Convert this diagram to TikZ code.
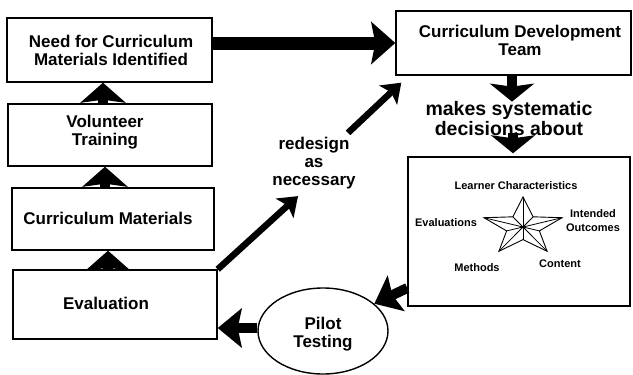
\documentclass[tikz,border=0pt]{standalone}
\usepackage{fontspec}
\setmainfont{Liberation Sans}
\usetikzlibrary{arrows.meta,calc,shapes.geometric}
\newcommand\dgbig{\fontsize{17}{18}\selectfont\bfseries}
\newcommand\dgdec{\fontsize{19.5}{20}\selectfont\bfseries}
\newcommand\dgsmall{\fontsize{11}{14}\selectfont\bfseries}
\begin{document}
\begin{tikzpicture}[x=1pt,y=-1pt,
  box/.style={draw, line width=1.4pt, align=center, font=\dgbig, inner sep=0pt},
  lbl/.style={align=center, inner sep=0pt},
  upar/.style={line width=10pt, -{Stealth[length=20pt,width=45pt,inset=3pt]}},
  downar/.style={line width=10pt, -{Stealth[length=18pt,width=44pt,inset=3pt]}},
  bigar/.style={line width=13pt, -{Stealth[length=24pt,width=42pt,inset=4pt]}},
  medar/.style={line width=10pt, -{Stealth[length=24pt,width=39pt,inset=4pt]}},
  diagar/.style={line width=6.5pt, -{Stealth[length=18pt,width=26pt,inset=4pt]}},
  starline/.style={line width=0.9pt, line join=miter}
]
\useasboundingbox[fill=white] (0,0) rectangle (633,375);

% boxes
\node[box, minimum width=205pt, minimum height=64pt] (need) at (109.5,50) {};
\node[box, minimum width=204pt, minimum height=62pt] (vol) at (110,135) {};
\node[box, minimum width=202pt, minimum height=62pt] (cm) at (113,219) {};
\node[box, minimum width=204pt, minimum height=69pt] (eval) at (115,304.5) {};
\node[box, minimum width=235pt, minimum height=64pt] (cdt) at (513.5,43) {};
\node[box, minimum width=222pt, minimum height=149pt] (starbox) at (519,231.5) {};
\node[box, ellipse, minimum width=130pt, minimum height=86pt] (pilot) at (323,331) {};

% box texts
\node[lbl, font=\dgbig] (needt) at (111,50) {Need for Curriculum\\Materials Identified};
\node[lbl, font=\dgbig] (volt) at (105,132) {Volunteer\\Training};
\node[lbl, font=\dgbig] (cmt) at (108,218) {Curriculum Materials};
\node[lbl, font=\dgbig] (evalt) at (106,303) {Evaluation};
\node[lbl, font=\dgbig] (cdtt) at (520,40) {Curriculum Development\\Team};
\node[lbl, font=\dgbig] (pilott) at (323,334) {Pilot\\Testing};

% free labels
\node[lbl, font=\dgdec] (decide) at (509,119) {makes systematic\\decisions about};
\node[lbl, font=\dgbig] (redesign) at (314,163) {redesign\\as\\necessary};

% star labels
\node[lbl, font=\dgsmall] (lc) at (516,186) {Learner Characteristics};
\node[lbl, font=\dgsmall] (ev) at (446,223) {Evaluations};
\node[lbl, font=\dgsmall] (io) at (593,221) {Intended\\Outcomes};
\node[lbl, font=\dgsmall] (me) at (477,268) {Methods};
\node[lbl, font=\dgsmall] (co) at (560,264) {Content};

% star
\coordinate (sc) at (523,227);
\foreach \a/\r [count=\i] in {90/1,126/0.42,162/1,198/0.42,234/1,270/0.42,306/1,342/0.42,18/1,54/0.42}
  \coordinate (s\i) at ($(sc)+({41*\r*cos(\a)},{-30*\r*sin(\a)})$);
\draw[starline] (s1)--(s2)--(s3)--(s4)--(s5)--(s6)--(s7)--(s8)--(s9)--(s10)--cycle;
\foreach \i in {1,...,10} \draw[line width=0.8pt] (sc)--(s\i);

% up arrows
\draw[upar] ([xshift=-7pt]vol.north) -- ([xshift=-7pt]vol.north |- need.south);
\draw[upar] ([xshift=-8pt]cm.north) -- ([xshift=-8pt]cm.north |- vol.south);
\draw[upar] ([xshift=-7pt]eval.north) -- ([xshift=-7pt]eval.north |- cm.south);

% main arrow
\draw[bigar] (need.east |- cdt.west) -- (cdt.west);

% down arrows
\draw[downar] ([xshift=-1.5pt]cdt.south) -- ([xshift=-1.5pt]cdt.south |- decide.north);
\draw[downar] ([xshift=4pt,yshift=3pt]decide.south) -- ([xshift=4pt,yshift=3pt]decide.south |- starbox.north);

% diagonal arrows
\draw[diagar] (eval.north east) -- ([xshift=-16pt,yshift=-7pt]redesign.south);
\draw[diagar] ([xshift=34pt,yshift=4pt]redesign.north) -- ([xshift=6pt,yshift=-7pt]cdt.south west);

% loop arrows
\draw[medar] ([yshift=-56.5pt]starbox.west) -- (pilot.28);
\draw[medar] ([yshift=3pt]pilot.west) -- ([yshift=3pt]pilot.west -| eval.east);
\end{tikzpicture}
\end{document}
